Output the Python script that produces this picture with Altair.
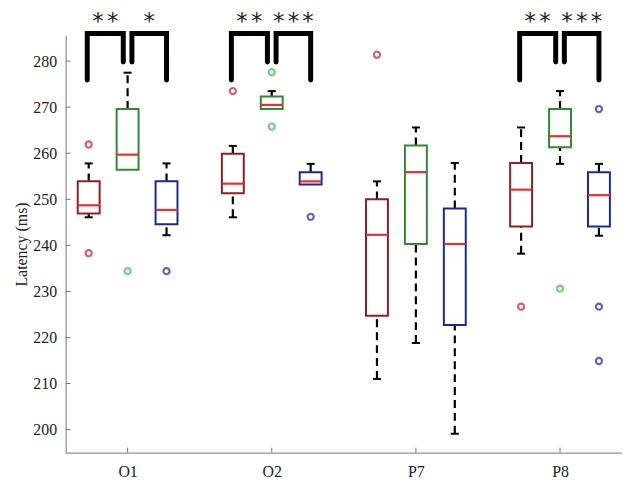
import altair as alt
import pandas as pd

# ---------------- data ----------------
groups = ["O1", "O2", "P7", "P8"]
series = ["S1", "S2", "S3"]

red_hi = [257.8, 261.6, 253.9, 265.6]
red_q3 = [253.9, 259.9, 250.0, 257.9]
red_med = [248.7, 253.4, 242.3, 252.1]
red_q1 = [246.9, 251.3, 224.7, 244.1]
red_lo = [246.1, 246.1, 211.0, 238.2]
red_out = [[261.9, 238.3], [273.5], [281.4], [226.7]]

green_hi = [277.5, 273.5, 265.6, 273.5]
green_q3 = [269.6, 272.3, 261.7, 269.6]
green_med = [259.7, 270.5, 255.9, 263.7]
green_q1 = [256.4, 269.6, 240.3, 261.3]
green_lo = [256.4, 269.6, 218.8, 257.7]
green_out = [[234.4], [277.6, 265.8], [], [230.6]]

blue_hi = [257.8, 257.7, 257.9, 257.7]
blue_q3 = [253.9, 255.9, 248.0, 255.9]
blue_med = [247.7, 253.9, 240.3, 250.9]
blue_q1 = [244.6, 253.2, 222.7, 244.1]
blue_lo = [242.2, 253.2, 199.1, 242.1]
blue_out = [[234.4], [246.2], [], [269.6, 226.7, 214.9]]

sig_groups = ["O1", "O2", "P8"]
sig_left = ["**", "**", "**"]
sig_right = ["*", "***", "***"]
bracket_top = 286.0
leg_long = 275.9
leg_short = 279.8
star_level = 288.5

y_ticks = [200, 210, 220, 230, 240, 250, 260, 270, 280]

# ---------------- styling ----------------
box_colors = ["#8E1F24", "#2E8A33", "#1F2A8C"]
out_colors = ["#B8262C", "#3CBF46", "#1E22A3"]
median_color = "#E5302F"
axis_gray = "#777777"
font = "Liberation Serif"

offsets = [-0.27, 0.0, 0.27]
half_box = 0.076
half_cap = 0.028
star_step = 0.102

stats = [
    (red_hi, red_q3, red_med, red_q1, red_lo, red_out),
    (green_hi, green_q3, green_med, green_q1, green_lo, green_out),
    (blue_hi, blue_q3, blue_med, blue_q1, blue_lo, blue_out),
]

box_rows, whisk_rows, cap_rows, out_rows = [], [], [], []
for si, s in enumerate(series):
    hi, q3, med, q1, lo, outs = stats[si]
    for gi, g in enumerate(groups):
        p = gi + 1 + offsets[si]
        box_rows.append(dict(series=s, pos=p, xl=p - half_box, xr=p + half_box,
                             q1=q1[gi], q3=q3[gi], med=med[gi]))
        if hi[gi] > q3[gi]:
            whisk_rows.append(dict(series=s, pos=p, y=q3[gi], y2=hi[gi]))
            cap_rows.append(dict(series=s, xl=p - half_cap, xr=p + half_cap, y=hi[gi]))
        if lo[gi] < q1[gi]:
            whisk_rows.append(dict(series=s, pos=p, y=lo[gi], y2=q1[gi]))
            cap_rows.append(dict(series=s, xl=p - half_cap, xr=p + half_cap, y=lo[gi]))
        for v in outs[gi]:
            out_rows.append(dict(series=s, pos=p, y=v))

box_df = pd.DataFrame(box_rows)
whisk_df = pd.DataFrame(whisk_rows)
cap_df = pd.DataFrame(cap_rows)
out_df = pd.DataFrame(out_rows)


def add_stars(rows, center, text):
    n = len(text)
    for j, ch in enumerate(text):
        rows.append(dict(x=center + (j - (n - 1) / 2) * star_step, y=star_level, t=ch))


br_rows, star_rows = [], []
for k, g in enumerate(sig_groups):
    c = groups.index(g) + 1
    a, b = c - 0.28, c - 0.03
    pts = [(a, leg_long), (a, bracket_top), (b, bracket_top), (b, leg_short)]
    for j, (xx, yy) in enumerate(pts):
        br_rows.append(dict(bid=f"{g}L", k=j, x=xx, y=yy))
    a, b = c + 0.03, c + 0.27
    pts = [(a, leg_short), (a, bracket_top), (b, bracket_top), (b, leg_long)]
    for j, (xx, yy) in enumerate(pts):
        br_rows.append(dict(bid=f"{g}R", k=j, x=xx, y=yy))
    add_stars(star_rows, c - 0.155, sig_left[k])
    add_stars(star_rows, c + 0.15, sig_right[k])
br_df = pd.DataFrame(br_rows)
star_df = pd.DataFrame(star_rows)

ytick_df = pd.DataFrame({"v": y_ticks})
xtick_df = pd.DataFrame({"v": [1, 2, 3, 4]})

# ---------------- scales / axes ----------------
xs = alt.Scale(domain=[0.57, 4.43], nice=False, zero=False)
ys = alt.Scale(domain=[195.0, 285.6], nice=False, zero=False)

label_expr = "[" + ",".join(f"'{g}'" for g in groups) + "][datum.value - 1]"
xaxis = alt.Axis(values=[1, 2, 3, 4], labelExpr=label_expr, ticks=False, tickSize=0,
                 grid=False, domainColor=axis_gray, domainWidth=1,
                 labelFont=font, labelFontSize=16, labelColor="#222222",
                 labelPadding=11, title=None)
yaxis = alt.Axis(values=y_ticks, ticks=False, tickSize=0, grid=False,
                 domainColor=axis_gray, domainWidth=1,
                 labelFont=font, labelFontSize=16, labelColor="#222222",
                 labelPadding=9, title="Latency (ms)", titleFont=font,
                 titleFontSize=16, titleFontWeight="normal", titleColor="#222222",
                 titlePadding=3)


def X(f):
    return alt.X(f, type="quantitative", scale=xs, axis=xaxis, title=None)


def Y(f):
    return alt.Y(f, type="quantitative", scale=ys, axis=yaxis, title="Latency (ms)")


whiskers = alt.Chart(whisk_df).mark_rule(color="black", strokeWidth=2.2, strokeDash=[8, 5]).encode(
    x=X("pos"), y=Y("y"), y2="y2")
caps = alt.Chart(cap_df).mark_rule(color="black", strokeWidth=2).encode(
    x=X("xl"), x2="xr", y=Y("y"))
boxes = alt.Chart(box_df).mark_rect(fill="white", fillOpacity=0, strokeWidth=2).encode(
    x=X("xl"), x2="xr", y=Y("q1"), y2="q3",
    stroke=alt.Stroke("series:N", scale=alt.Scale(domain=series, range=box_colors), legend=None))
medians = alt.Chart(box_df).mark_rule(color=median_color, strokeWidth=2.2).encode(
    x=X("xl"), x2="xr", y=Y("med"))
outliers = alt.Chart(out_df).mark_point(shape="circle", filled=False, size=38, strokeWidth=2.2).encode(
    x=X("pos"), y=Y("y"),
    stroke=alt.Stroke("series:N", scale=alt.Scale(domain=series, range=out_colors), legend=None))
brackets = alt.Chart(br_df).mark_line(color="black", strokeWidth=5, strokeCap="round", strokeJoin="miter").encode(
    x=X("x"), y=Y("y"), detail="bid:N", order="k:Q")
stars = alt.Chart(star_df).mark_text(font="DejaVu Sans", fontSize=23, color="#222222",
                                      baseline="middle", align="center").encode(
    x=X("x"), y=Y("y"), text="t:N")
yticks = alt.Chart(ytick_df).mark_rule(color=axis_gray, strokeWidth=1).encode(
    x=alt.value(0), x2=alt.value(5), y=Y("v"))
xticks = alt.Chart(xtick_df).mark_rule(color=axis_gray, strokeWidth=1).encode(
    x=X("v"), y=alt.value(420), y2=alt.value(415))

chart = alt.layer(
    yticks, xticks, whiskers, caps, boxes, medians, outliers, brackets, stars
).resolve_scale(stroke="independent").properties(
    width=560, height=420,
    padding={"left": 58, "top": 26, "right": 0, "bottom": 26},
    autosize=alt.AutoSizeParams(type="none"),
    background="white",
).configure_view(stroke=None)

chart.save("out.html", embed_options={"renderer": "svg", "actions": False})
